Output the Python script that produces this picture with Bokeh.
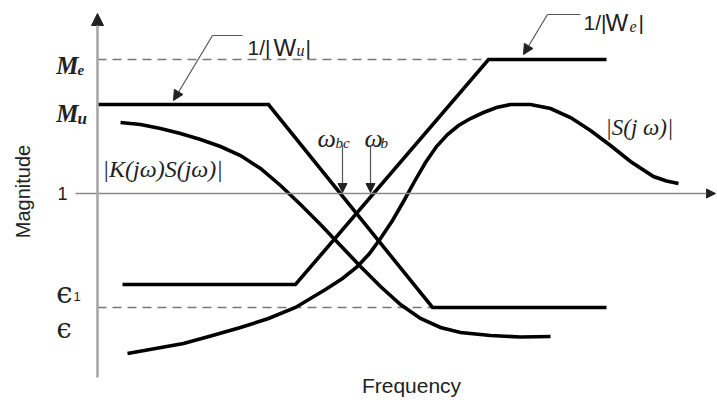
import math
from bokeh.plotting import figure
from bokeh.models import Range1d, Label, Arrow, NormalHead
from bokeh.embed import file_html
from bokeh.resources import INLINE

# ---- data (log-frequency units, log-magnitude units; 0 = magnitude 1) ----
M_E = 13.4
M_U = 8.9
ONE = 0.0
EPS1 = -9.1
EPS = -11.4

wu_x = [0.0, 17.1, 33.5, 50.9]
wu_y = [M_U, M_U, EPS, EPS]

we_x = [2.5, 19.8, 39.1, 50.9]
we_y = [EPS1, EPS1, M_E, M_E]

ks_x = [2.3, 4.3, 6.3, 8.3, 10.3, 12.3, 14.3, 16.3, 18.3, 20.3, 22.3, 24.3,
        26.3, 28.3, 30.3, 32.3, 34.3, 36.3, 39.3, 42.3, 45.3]
ks_y = [7.1, 6.9, 6.5, 6.0, 5.4, 4.7, 3.8, 2.5, 0.8, -1.1, -3.1, -5.2,
        -7.3, -9.3, -11.1, -12.5, -13.4, -13.9, -14.2, -14.35, -14.3]

s_x = [3.0, 5.8, 8.6, 11.5, 14.3, 17.1, 19.8, 22.8, 24.5, 26.0, 27.2, 28.3,
       29.5, 30.6, 31.7, 32.8, 33.9, 35.0, 36.1, 37.3, 38.6, 39.9, 41.3, 43.3,
       45.3, 47.3, 49.3, 51.3, 53.3, 55.6, 56.9, 58.1]
s_y = [-16.0, -15.5, -15.0, -14.2, -13.4, -12.5, -11.4, -9.6, -8.5, -7.3, -6.0, -4.5,
       -2.7, -0.8, 1.2, 3.1, 4.7, 5.9, 6.8, 7.5, 8.1, 8.6, 8.9, 8.9,
       8.5, 7.6, 6.3, 4.8, 3.2, 1.7, 1.25, 1.0]

me_dash_x = [0.0, we_x[2]]
eps_dash_x = [0.0, wu_x[2]]

TXT = "#222222"
SERIF = "Liberation Serif"
SANS = "Liberation Sans"

p = figure(width=717, height=402, x_range=Range1d(-9.7, 62.0), y_range=Range1d(-20.9, 19.3),
           output_backend="svg", toolbar_location=None, min_border=0,
           x_axis_location=None, y_axis_location=None)
p.grid.visible = False
p.outline_line_color = None
p.background_fill_color = "white"

# dashed reference levels
p.line(me_dash_x, [M_E, M_E], line_color="#777777", line_width=1.3, line_dash="9 6")
p.line(eps_dash_x, [EPS, EPS], line_color="#777777", line_width=1.3, line_dash="9 6")

# axes
p.add_layout(Arrow(x_start=-2.2, y_start=ONE, x_end=61.8, y_end=ONE,
                   line_color="#8a8a8a", line_width=1.6,
                   end=NormalHead(size=9, fill_color="#222", line_color="#222")))
p.add_layout(Arrow(x_start=0.0, y_start=-18.4, x_end=0.0, y_end=18.0,
                   line_color="#a8a8a8", line_width=2.6,
                   end=NormalHead(size=12, fill_color="#222", line_color="#222")))

# curves
for xs, ys in [(wu_x, wu_y), (we_x, we_y), (ks_x, ks_y), (s_x, s_y)]:
    p.line(xs, ys, line_color="black", line_width=3.6, line_join="miter", line_cap="butt")


def lbl(x, y, text, size, font=SERIF, style="normal", align="left", base="alphabetic", angle=0.0):
    p.add_layout(Label(x=x, y=y, text=text, text_font=font, text_font_style=style,
                       text_font_size=f"{size}px", text_color=TXT, text_align=align,
                       text_baseline=base, angle=angle))


# y-level labels
lbl(-1.9, 12.8, "M", 25, style="bold italic", align="right")
lbl(-2.0, 12.4, "e", 15, style="bold italic")
lbl(-1.9, 8.0, "M", 25, style="bold italic", align="right")
lbl(-2.0, 7.5, "u", 17, style="bold italic")
lbl(-3.0, ONE, "1", 18, font=SANS, align="right", base="middle")
lbl(-2.5, -9.9, "\u03f5", 29, font="DejaVu Serif", align="right")
lbl(-2.4, -10.3, "1", 13, font=SANS)
lbl(-2.6, -13.5, "\u03f5", 27, font="DejaVu Serif", align="right")

# curve labels
lbl(0.5, 2.5, "|K(jω)S(jω)|", 24, style="italic", base="middle")
lbl(50.8, 6.6, "|S(j ω)|", 23, style="italic", base="middle")

# 1/|Wu| label and pointer
lbl(15.0, 14.6, "1/|", 21, font=SANS)
lbl(17.6, 14.6, "W", 24, font=SANS)
lbl(19.9, 14.3, "u", 16, style="italic")
lbl(20.8, 14.6, "|", 21, font=SANS)
p.line([11.5, 14.5], [15.8, 15.8], line_color="#555555", line_width=1.2)
p.add_layout(Arrow(x_start=11.5, y_start=15.8, x_end=7.6, y_end=9.3, line_color="#555555", line_width=1.2,
                   end=NormalHead(size=10, fill_color="#222", line_color="#222")))

# 1/|We| label and pointer
lbl(48.6, 17.1, "1/|", 21, font=SANS)
lbl(50.8, 17.1, "W", 24, font=SANS)
lbl(53.2, 16.7, "e", 16, style="italic")
lbl(54.1, 17.1, "|", 21, font=SANS)
p.line([45.0, 48.3], [17.9, 17.9], line_color="#555555", line_width=1.2)
p.add_layout(Arrow(x_start=45.0, y_start=17.9, x_end=42.6, y_end=13.9, line_color="#555555", line_width=1.2,
                   end=NormalHead(size=10, fill_color="#222", line_color="#222")))

# bandwidth markers
lbl(22.0, 5.5, "ω", 26, style="italic")
lbl(23.8, 5.1, "bc", 15, style="italic")
lbl(26.7, 5.5, "ω", 26, style="italic")
lbl(28.3, 5.1, "b", 15, style="italic")
for xm in [24.5, 27.3]:
    p.add_layout(Arrow(x_start=xm, y_start=4.8, x_end=xm, y_end=0.1, line_color="#555555", line_width=1.2,
                       end=NormalHead(size=9, fill_color="#222", line_color="#222")))

# axis titles
lbl(31.4, -19.2, "Frequency", 21, font=SANS, align="center", base="middle")
lbl(-7.5, 0.2, "Magnitude", 20, font=SANS, align="center", base="middle", angle=math.pi / 2)

open("out.html", "w").write(file_html(p, INLINE))
